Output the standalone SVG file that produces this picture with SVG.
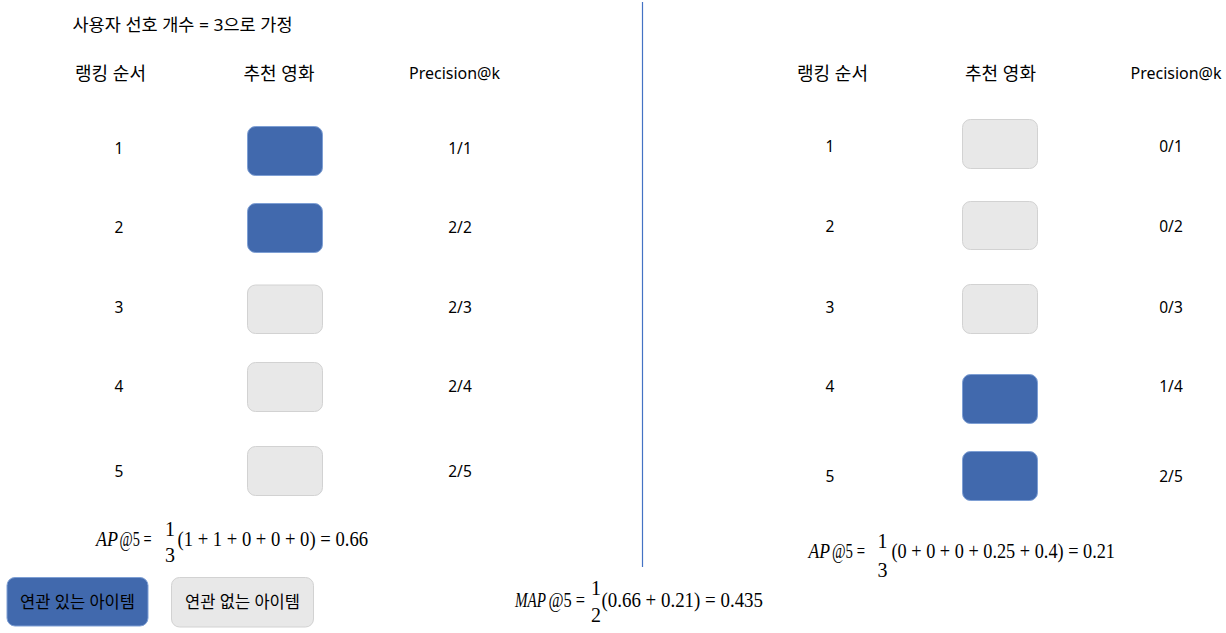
<svg xmlns="http://www.w3.org/2000/svg" width="1226" height="633" viewBox="0 0 1226 633">
<style>
.t{font-family:"Noto Sans","Noto Sans CJK KR",sans-serif;fill:#000}
.ko{font-size:18px}
.hd{font-size:16px}
.n{font-size:15.5px;text-anchor:middle}
.m{font-family:"Liberation Serif","Times New Roman",serif;font-size:20.5px;fill:#000}
.f{font-family:"Liberation Serif","Times New Roman",serif;font-size:20px;fill:#000;text-anchor:middle}
.i{font-style:italic}
.rel{fill:#4169ad;stroke:#7e9fd4;stroke-width:1}
.irr{fill:#e8e8e8;stroke:#d2d2d2;stroke-width:1}
</style>
<rect width="1226" height="633" fill="#fff"/>

<g id="divider">
<line x1="642.5" y1="2" x2="642.5" y2="567" stroke="#4472c4" stroke-width="1.2"/>
</g>

<g id="title">
<text class="t" x="72.5" y="31" font-size="17" textLength="220" lengthAdjust="spacingAndGlyphs">사용자 선호 개수 = 3으로 가정</text>
</g>

<g id="left-headers">
<text class="t ko" x="110.5" y="80" text-anchor="middle">랭킹 순서</text>
<text class="t ko" x="279" y="80" text-anchor="middle">추천 영화</text>
<text class="t hd" x="454.5" y="79" text-anchor="middle" textLength="91" lengthAdjust="spacingAndGlyphs">Precision@k</text>
</g>

<g id="right-headers">
<text class="t ko" x="832.5" y="80" text-anchor="middle">랭킹 순서</text>
<text class="t ko" x="1000.5" y="80" text-anchor="middle">추천 영화</text>
<text class="t hd" x="1176" y="79" text-anchor="middle" textLength="91" lengthAdjust="spacingAndGlyphs">Precision@k</text>
</g>

<g id="left-row1"><text class="t n" x="119" y="154">1</text><rect class="rel" x="247.5" y="126.5" width="75" height="49" rx="8"/><text class="t n" x="460" y="154">1/1</text></g>
<g id="left-row2"><text class="t n" x="119" y="233">2</text><rect class="rel" x="247.5" y="203.5" width="75" height="49" rx="8"/><text class="t n" x="460" y="233">2/2</text></g>
<g id="left-row3"><text class="t n" x="119" y="313">3</text><rect class="irr" x="247.5" y="285" width="75" height="48.5" rx="8"/><text class="t n" x="460" y="313">2/3</text></g>
<g id="left-row4"><text class="t n" x="119" y="392">4</text><rect class="irr" x="247.5" y="362.5" width="75" height="49" rx="8"/><text class="t n" x="460" y="392">2/4</text></g>
<g id="left-row5"><text class="t n" x="119" y="476.5">5</text><rect class="irr" x="247.5" y="446.5" width="75" height="49" rx="8"/><text class="t n" x="460" y="476.5">2/5</text></g>

<g id="right-row1"><text class="t n" x="830" y="151.5">1</text><rect class="irr" x="962.5" y="119.5" width="75" height="49" rx="8"/><text class="t n" x="1171" y="151.5">0/1</text></g>
<g id="right-row2"><text class="t n" x="830" y="231.5">2</text><rect class="irr" x="962.5" y="201.5" width="75" height="48" rx="8"/><text class="t n" x="1171" y="231.5">0/2</text></g>
<g id="right-row3"><text class="t n" x="830" y="313">3</text><rect class="irr" x="962.5" y="284.5" width="75" height="49" rx="8"/><text class="t n" x="1171" y="313">0/3</text></g>
<g id="right-row4"><text class="t n" x="830" y="392">4</text><rect class="rel" x="962.5" y="374.5" width="75" height="49" rx="8"/><text class="t n" x="1171" y="392">1/4</text></g>
<g id="right-row5"><text class="t n" x="830" y="482">5</text><rect class="rel" x="962.5" y="451.5" width="75" height="49" rx="8"/><text class="t n" x="1171" y="482">2/5</text></g>

<g id="left-ap">
<text class="m i" x="96" y="546" textLength="22" lengthAdjust="spacingAndGlyphs">AP</text>
<text class="m" x="119.5" y="546" textLength="32" lengthAdjust="spacingAndGlyphs">@5 =</text>
<text class="f" x="170" y="536">1</text>
<text class="f" x="170" y="562">3</text>
<text class="m" x="177.5" y="546" textLength="190.5" lengthAdjust="spacingAndGlyphs">(1 + 1 + 0 + 0 + 0) = 0.66</text>
</g>

<g id="right-ap">
<text class="m i" x="808.5" y="558" textLength="21.5" lengthAdjust="spacingAndGlyphs">AP</text>
<text class="m" x="832" y="558" textLength="33" lengthAdjust="spacingAndGlyphs">@5 =</text>
<text class="f" x="882.5" y="548">1</text>
<text class="f" x="882.5" y="576.5">3</text>
<text class="m" x="891.5" y="558" textLength="223.5" lengthAdjust="spacingAndGlyphs">(0 + 0 + 0 + 0.25 + 0.4) = 0.21</text>
</g>

<g id="map">
<text class="m i" x="515" y="606.5" textLength="31" lengthAdjust="spacingAndGlyphs">MAP</text>
<text class="m" x="548.5" y="606.5" textLength="36.5" lengthAdjust="spacingAndGlyphs">@5 =</text>
<text class="f" x="596" y="595">1</text>
<text class="f" x="596" y="621.5">2</text>
<text class="m" x="601.5" y="606.5" textLength="161.5" lengthAdjust="spacingAndGlyphs">(0.66 + 0.21) = 0.435</text>
</g>

<g id="legend-relevant">
<rect class="rel" x="7" y="577.5" width="141" height="48.5" rx="8"/>
<text class="t" x="77.5" y="607.5" font-size="16.5" text-anchor="middle">연관 있는 아이템</text>
</g>
<g id="legend-irrelevant">
<rect class="irr" x="171.5" y="577.5" width="142" height="49.5" rx="8"/>
<text class="t" x="242.5" y="607.5" font-size="16.5" text-anchor="middle">연관 없는 아이템</text>
</g>
</svg>
